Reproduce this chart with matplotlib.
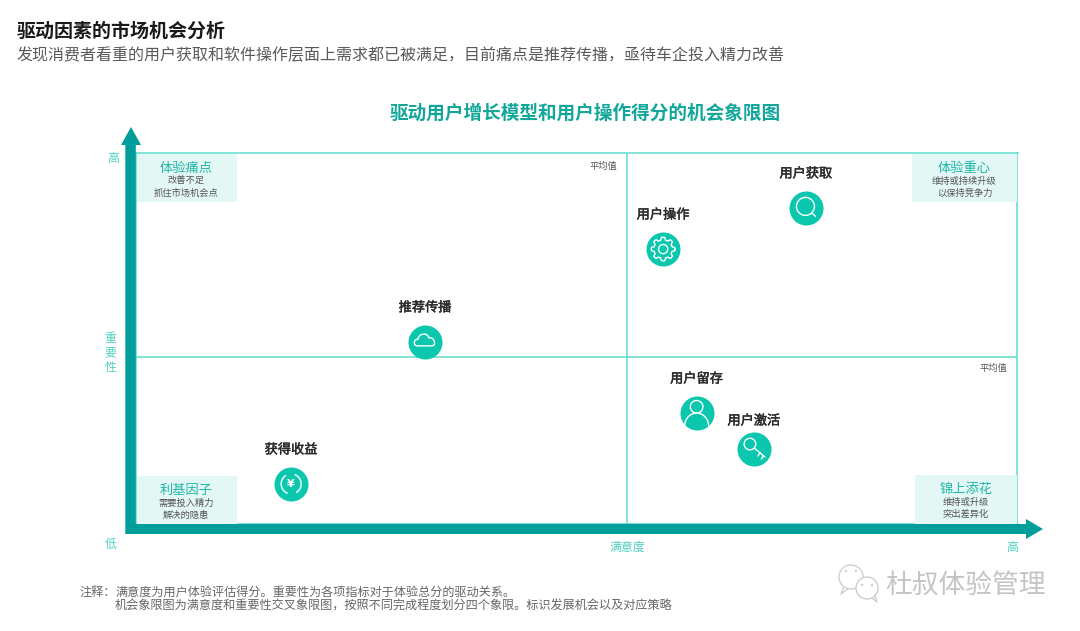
import numpy as np
import matplotlib
matplotlib.use("Agg")
import matplotlib.pyplot as plt
from matplotlib.patches import Polygon, Rectangle, Circle, Arc, PathPatch
from matplotlib.path import Path
import matplotlib.patheffects as pe

plt.rcParams['font.family'] = ['Noto Sans CJK SC', 'DejaVu Sans']

# ---------- data ----------
drivers = ['用户获取', '用户操作', '推荐传播', '用户留存', '用户激活', '获得收益']
satisfaction = [76.0, 59.8, 32.8, 63.6, 70.1, 17.6]
importance = [85.2, 74.1, 49.1, 29.9, 20.2, 10.8]
icons = ['search', 'gear', 'cloud', 'person', 'key', 'yen']
avg_satisfaction = 55.65
avg_importance = 45.0
quadrant_titles = ['体验痛点', '体验重心', '利基因子', '锦上添花']
quadrant_notes = [['改善不足', '抓住市场机会点'], ['维持或持续升级', '以保持竞争力'],
                  ['需要投入精力', '解决的隐患'], ['维持或升级', '突出差异化']]
title = '驱动因素的市场机会分析'
subtitle = '发现消费者看重的用户获取和软件操作层面上需求都已被满足\uff0c目前痛点是推荐传播\uff0c亟待车企投入精力改善'
chart_title = '驱动用户增长模型和用户操作得分的机会象限图'
notes = ['注释\uff1a', '满意度为用户体验评估得分。重要性为各项指标对于体验总分的驱动关系。',
         '机会象限图为满意度和重要性交叉象限图\uff0c按照不同完成程度划分四个象限。标识发展机会以及对应策略']
watermark = '杜叔体验管理'

TEAL = '#009E9B'
LINE = '#5FDCCB'
BOX = '#E3F7F4'
MARK = '#0BC7AE'
HEAD = '#1FB5A8'
LABEL = '#4FD0C0'
W, H = 1080, 631

fig = plt.figure(figsize=(W / 100, H / 100), dpi=100, facecolor='white')
L, R, T, B = 136, 1017.5, 153, 524
ax = fig.add_axes([L / W, 1 - B / H, (R - L) / W, (B - T) / H])
ax.set_xlim(0, 100)
ax.set_ylim(0, 100)
ax.set_xticks([])
ax.set_yticks([])
for s in ax.spines.values():
    s.set_color(LINE)
    s.set_linewidth(1.1)
ax.axvline(avg_satisfaction, color=LINE, lw=1.1, zorder=1)
ax.axhline(avg_importance, color=LINE, lw=1.1, zorder=1)
ax.scatter(satisfaction, importance, s=600, color=MARK, linewidths=0, zorder=3)

ov = fig.add_axes([0, 0, 1, 1], facecolor='none')
ov.set_xlim(0, W)
ov.set_ylim(H, 0)
ov.axis('off')


def txt(x, y, s, size, color='#333333', ha='center', va='center', **kw):
    return ov.text(x, y, s, fontsize=size, color=color, ha=ha, va=va, **kw)


# headings
txt(17, 31, title, 13.7, '#1a1a1a', ha='left', fontweight='bold')
txt(17, 56, subtitle, 11.5, '#595959', ha='left')
txt(585.5, 113, chart_title, 13.4, '#10A79A', fontweight='bold')

# quadrant boxes
boxes = [(136.5, 154, 100.5, 48), (912, 154, 105, 48), (136.5, 476, 100, 48), (915, 475, 102, 49)]
for (x, y, w, h), t, n in zip(boxes, quadrant_titles, quadrant_notes):
    ov.add_patch(Rectangle((x, y), w, h, fc=BOX, ec='none', zorder=1))
    cx = x + w / 2 + (-0.5 if x < 200 else 0)
    txt(cx, y + 14.3, t, 9.5, HEAD)
    txt(cx, y + 27, n[0], 6.7, '#555555')
    txt(cx, y + 39, n[1], 6.7, '#555555')

# axis arrows
ov.add_patch(Polygon([(125.3, 534), (125.3, 145), (121, 145), (131, 127), (141, 145),
                      (135.8, 145), (135.8, 524), (1026, 524), (1026, 519), (1043, 529),
                      (1026, 539), (1026, 534)], closed=True, fc=TEAL, ec='none', zorder=4))

txt(113, 158.5, '高', 8.6, LABEL)
for yy, c in zip([339, 353, 367], '重要性'):
    txt(110.5, yy, c, 8.6, LABEL)
txt(111, 544.5, '低', 8.6, LABEL)
txt(627, 547, '满意度', 8.6, LABEL)
txt(1012, 548, '高', 8.6, LABEL)
txt(603, 166, '平均值', 6.7, '#555555')
txt(993.5, 368.5, '平均值', 6.7, '#555555')


def draw_icon(kind, cx, cy):
    st = dict(fc='none', ec='white', lw=1.0, zorder=6)
    ln = dict(color='white', lw=1.0, zorder=6, solid_capstyle='round')
    if kind == 'search':
        ov.add_patch(Circle((cx - 0.5, cy - 1.5), 9, **st))
        ov.plot([cx + 5.8, cx + 9.5], [cy + 4.8, cy + 8.5], **ln)
    elif kind == 'gear':
        ang = np.linspace(0, 2 * np.pi, 361)
        teeth = 8
        rad = 9.2 + 2.6 * np.clip(2.2 * np.cos(teeth * ang), -1, 1) * 0.5 + 1.3
        ov.plot(cx + rad * np.cos(ang), cy + rad * np.sin(ang), **ln)
        ov.add_patch(Circle((cx, cy), 4.6, **st))
    elif kind == 'cloud':
        verts = [(-11, 7), (-17, 7), (-16, -3), (-10, -2), (-9, -11), (4, -12), (5, -4),
                 (12, -7), (17, 7), (9, 7), (-11, 7)]
        codes = [Path.MOVETO, Path.CURVE4, Path.CURVE4, Path.CURVE4, Path.CURVE4, Path.CURVE4,
                 Path.CURVE4, Path.CURVE4, Path.CURVE4, Path.CURVE4, Path.LINETO]
        ov.add_patch(PathPatch(Path([(cx + 0.72 * a, cy - 1 + 0.72 * b) for a, b in verts], codes), **st))
    elif kind == 'person':
        ov.add_patch(Circle((cx, cy - 6.3), 6.3, **st))
        ov.add_patch(Arc((cx, cy + 13), 24, 26, theta1=180, theta2=360, ec='white', lw=1.0, zorder=6))
    elif kind == 'key':
        ov.add_patch(Circle((cx - 4, cy - 5), 5.8, **st))
        ov.plot([cx + 0.5, cx + 11], [cy - 1, cy + 8], **ln)
        ov.plot([cx + 6, cx + 4], [cy + 3.7, cy + 7], **ln)
        ov.plot([cx + 9.5, cx + 7.5], [cy + 6.5, cy + 10], **ln)
    elif kind == 'yen':
        for a, b in [(-70, 60), (110, 240)]:
            ov.add_patch(Arc((cx, cy), 20, 20, theta1=a, theta2=b, ec='#D7F5F0', lw=1.2, zorder=6))
        ov.text(cx, cy, '¥', fontsize=8, color='white', ha='center', va='center', zorder=6,
                fontweight='bold', family='DejaVu Sans')


fig.canvas.draw()
label_dy = {'用户激活': -28}
bold = [pe.withStroke(linewidth=0.35, foreground='#2b2b2b')]
for name, sx, sy, kind in zip(drivers, satisfaction, importance, icons):
    px = ax.transData.transform((sx, sy))
    cx, cy = ov.transData.inverted().transform(px)
    draw_icon(kind, cx, cy)
    txt(cx, cy + label_dy.get(name, -34), name, 9.5, '#2b2b2b', path_effects=bold)

# footnotes
txt(79, 592, notes[0], 8.7, '#666666', ha='left')
txt(115, 592, notes[1], 8.7, '#666666', ha='left')
txt(115, 606, notes[2], 8.75, '#666666', ha='left')

# watermark
txt(965, 585, watermark, 19.3, '#C4C4C4')
bubble = '#CFCFCF'
for (x, y, r) in [(851, 577, 12), (867, 588, 11)]:
    ov.add_patch(Circle((x, y), r, fc='white', ec=bubble, lw=1.0, zorder=3))
ov.plot([844, 841, 848], [587, 594, 589], color=bubble, lw=1.0, zorder=3)
ov.plot([872, 877, 875], [598, 602, 595], color=bubble, lw=1.0, zorder=3)
for x, y in [(846, 571), (856, 571), (862, 585), (872, 585)]:
    ov.add_patch(Circle((x, y), 1.2, fc=bubble, ec='none', zorder=4))

fig.savefig('out.png', dpi=100, facecolor='white')
